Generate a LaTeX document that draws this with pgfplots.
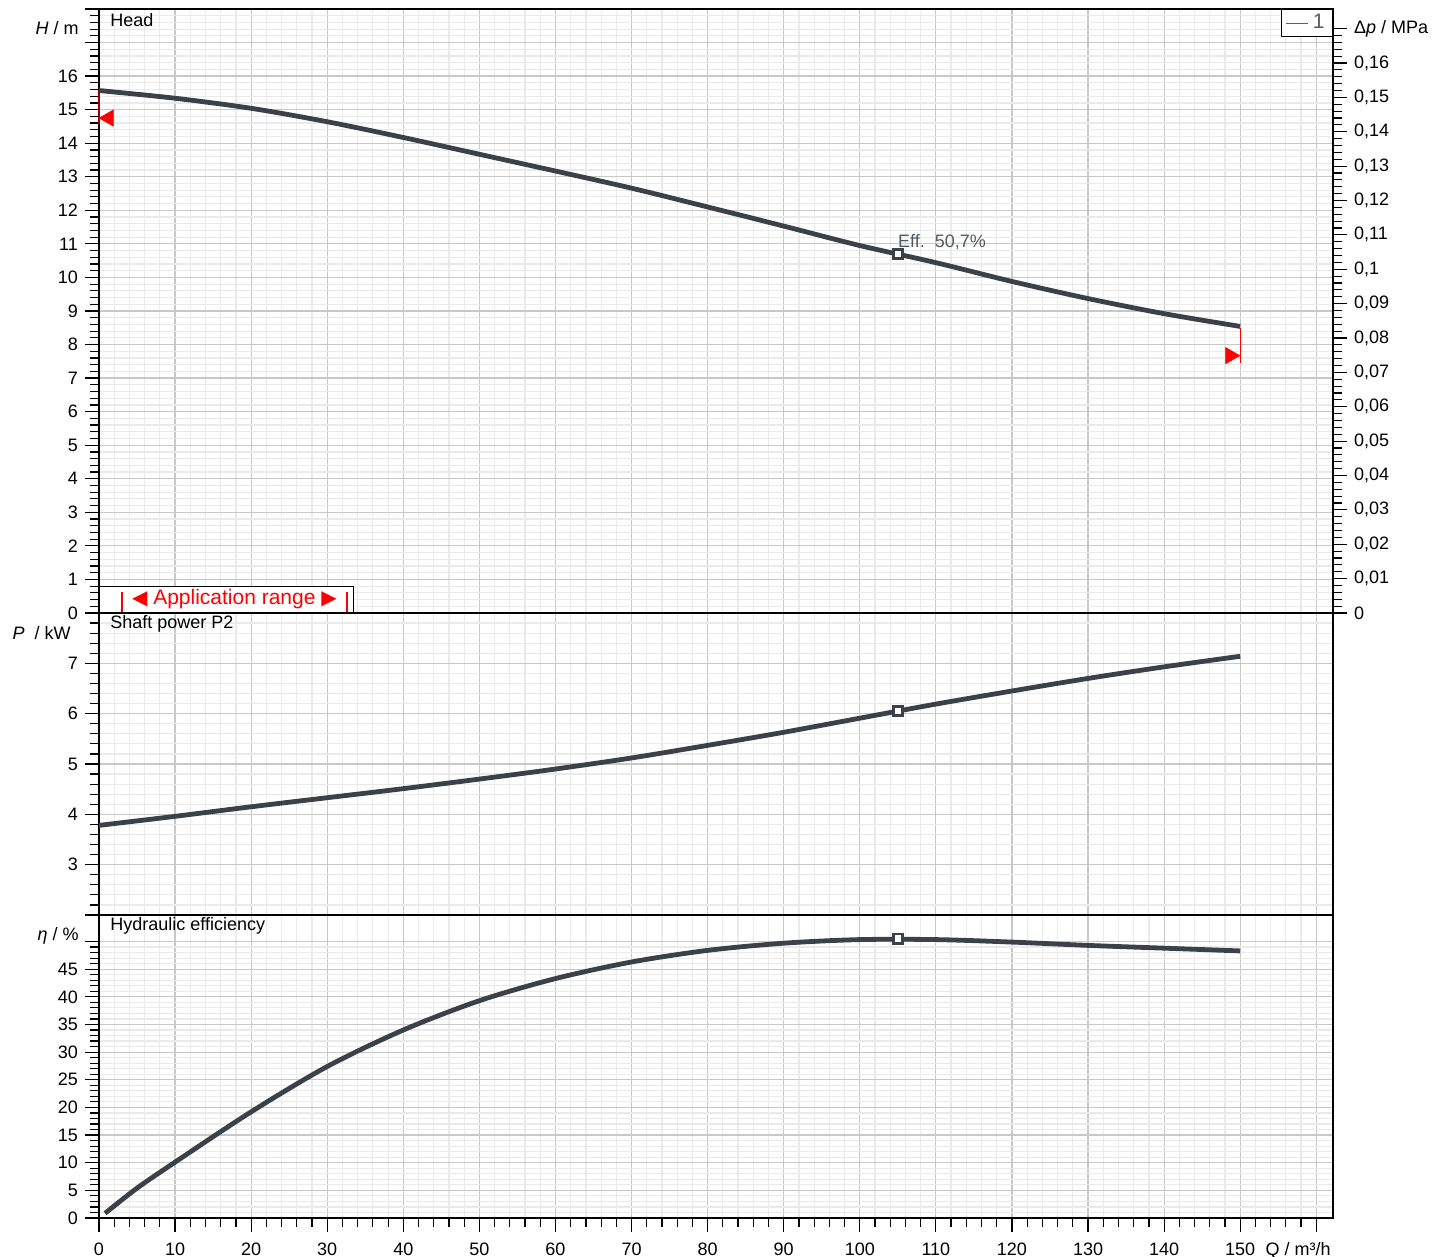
\documentclass[border=0pt]{standalone}
\usepackage{fontspec}
\setmainfont{Liberation Sans}
\newfontfamily\dejavu{DejaVu Sans}
\usepackage{pgfplots}
\pgfplotsset{compat=1.18}
\definecolor{curve}{RGB}{58,65,73}
\definecolor{majgrid}{RGB}{200,200,200}
\definecolor{mingrid}{RGB}{234,234,234}
\definecolor{effgray}{RGB}{80,90,100}

\pgfplotsset{
  pump/.style={
    scale only axis, width=617pt, anchor=south west,
    xmin=0, xmax=162.2,
    xtick={0,10,...,160}, minor x tick num=4,
    grid=both,
    major grid style={draw=majgrid, line width=0.6pt},
    minor grid style={draw=mingrid, line width=0.6pt},
    axis line style={black, line width=0.9pt},
    tick align=outside,
    major tick length=7pt, minor tick length=4.5pt,
    every tick/.append style={black, line width=0.6pt},
    tick label style={font=\fontsize{9}{10.8}\selectfont},
    /pgf/number format/assume math mode=true,
    ytick pos=left,
    clip=false,
  },
  noxticks/.style={xticklabels={}, xtick style={draw=none}},
  crv/.style={curve, line width=2.4pt, smooth},
  bep/.style={only marks, mark=square*, mark size=2.3pt, mark options={fill=white, draw=curve, line width=1.3pt}, forget plot},
}
\newcommand{\lbl}{\fontsize{9}{10.8}\selectfont}

\begin{document}
\begin{tikzpicture}
\path[use as bounding box] (0pt,0pt) rectangle (723pt,628.5pt);

% ---------- Head ----------
\begin{axis}[pump, noxticks, at={(49.5pt,322pt)}, height=302pt,
  ymin=0, ymax=18, ytick={0,...,18},
  yticklabels={0,1,2,3,4,5,6,7,8,9,10,11,12,13,14,15,16,{},{}},
  minor y tick num=4,
  legend style={at={(1,1)}, anchor=north east, draw=black, fill=white,
    font=\fontsize{10.5}{12}\selectfont, text=curve!85, inner xsep=2pt, inner ysep=0.5pt},
  legend image code/.code={\draw[curve!85, line width=0.6pt] (0pt,0pt) -- (11pt,0pt);}]
\addplot[crv] coordinates {(0,15.57) (10,15.34) (20,15.04) (30,14.64) (40,14.17) (50,13.67) (60,13.17) (70,12.66) (80,12.10) (90,11.53) (100,10.95) (110,10.44) (120,9.88) (130,9.37) (140,8.92) (150,8.54)};
\addlegendentry{1}
\addplot[bep] coordinates {(105,10.70)};
\addplot[red!60!black, line width=1pt, forget plot] coordinates {(0,15.6) (0,14.57)};
\addplot[red, only marks, mark=triangle*, mark size=4.6pt, mark options={rotate=90}, forget plot] coordinates {(1.27,14.75)};
\addplot[red, line width=0.6pt, forget plot] coordinates {(150,8.5) (150,7.46)};
\addplot[red, only marks, mark=triangle*, mark size=4.6pt, mark options={rotate=-90}, forget plot] coordinates {(148.7,7.67)};
\node[anchor=west, text=effgray, font=\lbl, inner sep=0pt, yshift=6pt] at (axis cs:105,10.70) {Eff.\ \ 50,7\%};
\node[anchor=west, font=\lbl, inner sep=0pt, xshift=5.5pt, yshift=-5.5pt] at (rel axis cs:0,1) {Head};
\node[anchor=east, font=\lbl, inner sep=0pt, xshift=-10pt] at (axis cs:0,17.42) {\textit{H} / m};
\draw[black, line width=0.6pt, fill=white] (axis cs:0,0) rectangle (axis cs:33.5,0.8);
\draw[red, line width=1pt] (axis cs:3.0,0.03) -- (axis cs:3.0,0.62);
\draw[red, line width=1pt] (axis cs:32.6,0.03) -- (axis cs:32.6,0.62);
\node[red, font=\fontsize{10.5}{12}\selectfont, inner sep=0pt] at (axis cs:17.8,0.42) {{\dejavu\fontsize{10}{11}\selectfont ◀}\ Application range\ {\dejavu\fontsize{10}{11}\selectfont ▶}};
\end{axis}

% ---------- Delta p (right) ----------
\begin{axis}[scale only axis, width=617pt, height=302pt, at={(49.5pt,322pt)}, anchor=south west,
  xmin=0, xmax=162.2, ymin=0, ymax=0.17571,
  axis x line=none, axis y line*=right,
  ytick={0,0.01,0.02,0.03,0.04,0.05,0.06,0.07,0.08,0.09,0.1,0.11,0.12,0.13,0.14,0.15,0.16,0.17},
  yticklabels={0,{0,01},{0,02},{0,03},{0,04},{0,05},{0,06},{0,07},{0,08},{0,09},{0,1},{0,11},{0,12},{0,13},{0,14},{0,15},{0,16},{Δ\textit{p} / MPa}},
  minor y tick num=4, tick align=outside,
  major tick length=7pt, minor tick length=4.5pt,
  axis line style={black, line width=0.9pt},
  every tick/.append style={black, line width=0.6pt},
  tick label style={font=\lbl}]
\addplot[draw=none] coordinates {(0,0)};
\end{axis}

% ---------- Shaft power ----------
\begin{axis}[pump, noxticks, at={(49.5pt,171pt)}, height=151pt,
  ymin=2, ymax=8, ytick={2,...,8}, yticklabels={{},3,4,5,6,7,{}},
  minor y tick num=4]
\addplot[crv] coordinates {(0,3.78) (10,3.96) (20,4.15) (30,4.33) (40,4.51) (50,4.70) (60,4.90) (70,5.12) (80,5.37) (90,5.63) (100,5.91) (110,6.19) (120,6.45) (130,6.70) (140,6.93) (150,7.14)};
\addplot[bep] coordinates {(105,6.05)};
\node[anchor=west, font=\lbl, inner sep=0pt, xshift=5.5pt, yshift=-5.5pt] at (rel axis cs:0,1) {Shaft power P2};
\node[anchor=east, font=\lbl, inner sep=0pt, xshift=-14pt] at (axis cs:0,7.6) {\textit{P}\ \ / kW};
\end{axis}

% ---------- Efficiency ----------
\begin{axis}[pump, at={(49.5pt,19.5pt)}, height=151.5pt,
  ymin=0, ymax=54.8, ytick={0,5,...,50}, yticklabels={0,5,10,15,20,25,30,35,40,45,{}},
  minor y tick num=4, xtick pos=bottom,
  xticklabels={0,10,20,30,40,50,60,70,80,90,100,110,120,130,140,150,{}},
  xticklabel style={text height=1.6ex, text depth=0.3ex},
  extra x ticks={157.6}, extra x tick labels={Q / m³/h},
  extra x tick style={grid=none, tick style={draw=none}}]
\addplot[crv] coordinates {(0.8,0.85) (5,5.4) (10,10.1) (20,19.2) (30,27.4) (40,34.0) (50,39.3) (60,43.3) (70,46.3) (80,48.4) (90,49.7) (100,50.35) (110,50.35) (120,49.9) (130,49.3) (140,48.8) (150,48.3)};
\addplot[bep] coordinates {(105,50.5)};
\node[anchor=west, font=\lbl, inner sep=0pt, xshift=5.5pt, yshift=-5.5pt] at (rel axis cs:0,1) {Hydraulic efficiency};
\node[anchor=east, font=\lbl, inner sep=0pt, xshift=-10pt] at (axis cs:0,51.0) {\textit{η} / \%};
\end{axis}
\end{tikzpicture}
\end{document}
